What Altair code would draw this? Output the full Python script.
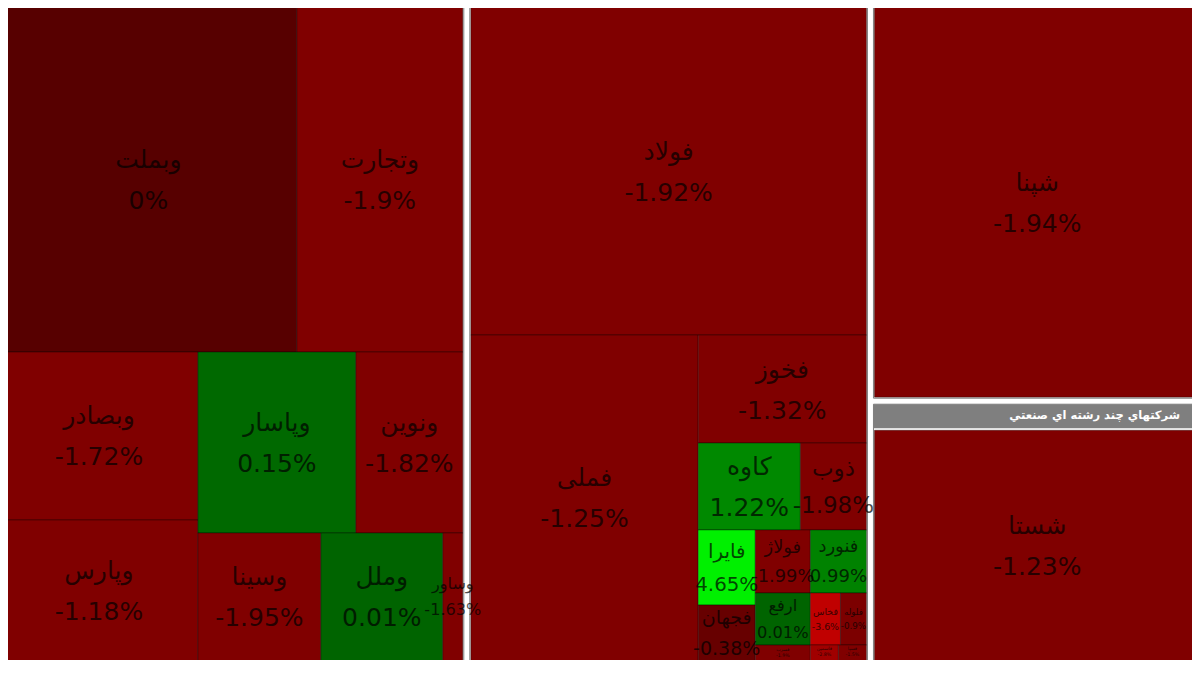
import math
import altair as alt
import pandas as pd

# ---------------- data ----------------
sector_names = [
    "بانکها و موسسات اعتباري",
    "فلزات اساسي",
    "فراورده هاي نفتي، كك و سوخت هسته اي",
    "شرکتهاي چند رشته اي صنعتي",
]

bank_tickers = ["وبملت", "وتجارت", "وبصادر", "وپارس", "وپاسار", "ونوین", "وسینا", "وملل", "وساور"]
bank_values = [111.12, 62.11, 35.36, 32.41, 30.40, 20.58, 18.44, 18.29, 3.00]
bank_changes = [0.0, -1.9, -1.72, -1.18, 0.15, -1.82, -1.95, 0.01, -1.63]

metal_tickers = ["فولاد", "فملی", "فخوز", "کاوه", "ذوب", "فایرا", "فجهان", "فولاژ", "فنورد",
                 "ارفع", "فسرب", "فخاس", "فلوله", "فاسمین", "فسپا"]
metal_values = [141.36, 82.20, 19.38, 9.48, 6.13, 4.57, 4.20, 3.70, 3.77,
                3.06, 1.70, 1.67, 1.44, 0.87, 0.87]
metal_changes = [-1.92, -1.25, -1.32, 1.22, -1.98, 4.65, -0.38, -1.99, 0.99,
                 0.01, -1.9, -3.6, -0.9, -2.8, -1.5]

petro_tickers = ["شپنا"]
petro_values = [143.0]
petro_changes = [-1.94]

multi_tickers = ["شستا"]
multi_values = [92.0]
multi_changes = [-1.23]

values, changes = {}, {}
for tk, vs, cs in [(bank_tickers, bank_values, bank_changes),
                   (metal_tickers, metal_values, metal_changes),
                   (petro_tickers, petro_values, petro_changes),
                   (multi_tickers, multi_values, multi_changes)]:
    for t, v, c in zip(tk, vs, cs):
        values[t] = v
        changes[t] = c

# ---------------- slice-and-dice treemap structure ----------------
banks_tree = ("v", [("h", ["وبملت", "وتجارت"]),
                    ("h", [("v", ["وبصادر", "وپارس"]),
                           ("v", [("h", ["وپاسار", "ونوین"]),
                                  ("h", ["وسینا", "وملل", "وساور"])])])])
metals_tree = ("v", ["فولاد",
                     ("h", ["فملی",
                            ("v", ["فخوز",
                                   ("h", ["کاوه", "ذوب"]),
                                   ("h", [("v", ["فایرا", "فجهان"]),
                                          ("v", [("h", ["فولاژ", "فنورد"]),
                                                 ("h", [("v", ["ارفع", "فسرب"]),
                                                        ("v", [("h", ["فخاس", "فلوله"]),
                                                               ("h", ["فاسمین", "فسپا"])])])])])])])])
root = ("h", [{"name": sector_names[0], "tree": banks_tree},
              {"name": sector_names[1], "tree": metals_tree},
              ("v", [{"name": sector_names[2], "tree": ("h", petro_tickers)},
                     {"name": sector_names[3], "tree": ("h", multi_tickers)}])])

GAP = 3
HEADER = 24
W, H = 1184, 652          # plot area (page margin of 8px around it)
VIS_X0, VIS_Y0 = 8, 8
VIS_X1, VIS_Y1 = 8 + W, 8 + H


def total(node):
    if isinstance(node, str):
        return values[node]
    if isinstance(node, dict):
        return total(node["tree"])
    return sum(total(k) for k in node[1])


tiles, boxes = [], []


def layout(node, x0, y0, x1, y1):
    if isinstance(node, str):
        tiles.append(dict(name=node, x=x0, x2=x1, y=y0, y2=y1, change=changes[node]))
        return
    if isinstance(node, dict):
        bx0, by0, bx1, by1 = x0 + GAP, y0 + GAP, x1 - GAP, y1 - GAP
        boxes.append(dict(x=bx0, x2=bx1, y=by0, y2=by1, hy2=by0 + HEADER,
                          hx=bx1 - 21, hy=by0 + HEADER / 2, label=node["name"]))
        layout(node["tree"], bx0 + 1, by0 + HEADER + 2, bx1 - 1, by1 - 1)
        return
    orient, kids = node
    tot = sum(total(k) for k in kids)
    pos = x0 if orient == "h" else y0
    span = (x1 - x0) if orient == "h" else (y1 - y0)
    for k in kids:
        s = span * total(k) / tot
        if orient == "h":
            layout(k, pos, y0, pos + s, y1)
        else:
            layout(k, x0, pos, x1, pos + s)
        pos += s


layout(root, -4, -29, 1204, 678)

for t in tiles:
    w, h = t["x2"] - t["x"], t["y2"] - t["y"]
    area = w * h
    f = min(25.0, max(6.0, math.sqrt(area) / 3.3))
    if area < 2000:
        f = max(6.0, math.sqrt(area) / 4.2)
    # label placed on the visible part of the tile
    vy0, vy1 = max(t["y"], VIS_Y0), min(t["y2"], VIS_Y1)
    vis_h = vy1 - vy0
    cx, cy = (t["x"] + t["x2"]) / 2, (vy0 + vy1) / 2
    if vis_h < 40:
        f = max(4.5, min(f, vis_h / 3.2))
        ny = vy0 + 0.3 * vis_h
        py = vy0 + 0.7 * vis_h
    else:
        f = min(f, vis_h / 2.3)
        ny = cy - 0.78 * f
        py = cy + 0.86 * f
    t["font"] = f
    t["cx"] = cx
    t["ny"] = ny
    t["py"] = py
    t["pct"] = f"{t['change']:g}%"

tiles_df = pd.DataFrame(tiles)
boxes_df = pd.DataFrame(boxes)
head_df = boxes_df[boxes_df["y"] >= VIS_Y0]

# ---------------- chart ----------------
xs = alt.Scale(domain=[VIS_X0, VIS_X1], nice=False, zero=False)
ys = alt.Scale(domain=[VIS_Y0, VIS_Y1], nice=False, zero=False, reverse=True)
color_scale = alt.Scale(domain=[-4, -2, -1, 0, 0.0001, 4.65],
                        range=["#d00000", "#800000", "#800000", "#570000", "#006400", "#00f000"],
                        interpolate="rgb")

rects = alt.Chart(tiles_df).mark_rect(clip=True, stroke="black", strokeOpacity=0.35, strokeWidth=1).encode(
    x=alt.X("x:Q", scale=xs, axis=None),
    x2="x2:Q",
    y=alt.Y("y:Q", scale=ys, axis=None),
    y2="y2:Q",
    color=alt.Color("change:Q", scale=color_scale, legend=None),
)

outlines = alt.Chart(boxes_df).mark_rect(clip=True, fillOpacity=0, stroke="#808080", strokeWidth=1).encode(
    x=alt.X("x:Q", scale=xs, axis=None), x2="x2:Q",
    y=alt.Y("y:Q", scale=ys, axis=None), y2="y2:Q",
)

headers = alt.Chart(head_df).mark_rect(clip=True, color="#7f7f7f").encode(
    x=alt.X("x:Q", scale=xs, axis=None), x2="x2:Q",
    y=alt.Y("y:Q", scale=ys, axis=None), y2="hy2:Q",
)

header_text = alt.Chart(head_df).mark_text(clip=True, align="right", baseline="middle",
                                           font="DejaVu Sans", fontSize=11.5, fontWeight="bold",
                                           color="white").encode(
    x=alt.X("hx:Q", scale=xs, axis=None),
    y=alt.Y("hy:Q", scale=ys, axis=None),
    text="label:N",
)

name_text = alt.Chart(tiles_df).mark_text(clip=True, align="center", baseline="middle",
                                          font="DejaVu Sans", color="black", opacity=0.7).encode(
    x=alt.X("cx:Q", scale=xs, axis=None),
    y=alt.Y("ny:Q", scale=ys, axis=None),
    size=alt.Size("font:Q", scale=None, legend=None),
    text="name:N",
)

pct_text = alt.Chart(tiles_df).mark_text(clip=True, align="center", baseline="middle",
                                         font="DejaVu Sans", color="black", opacity=0.7).encode(
    x=alt.X("cx:Q", scale=xs, axis=None),
    y=alt.Y("py:Q", scale=ys, axis=None),
    size=alt.Size("font:Q", scale=None, legend=None),
    text="pct:N",
)

chart = alt.layer(rects, outlines, headers, header_text, name_text, pct_text).properties(
    width=W, height=H, padding=0,
    autosize=alt.AutoSizeParams(type="none"),
    background="white",
).configure_view(strokeWidth=0)

chart.save("out.html", embed_options={"renderer": "svg", "actions": False})
